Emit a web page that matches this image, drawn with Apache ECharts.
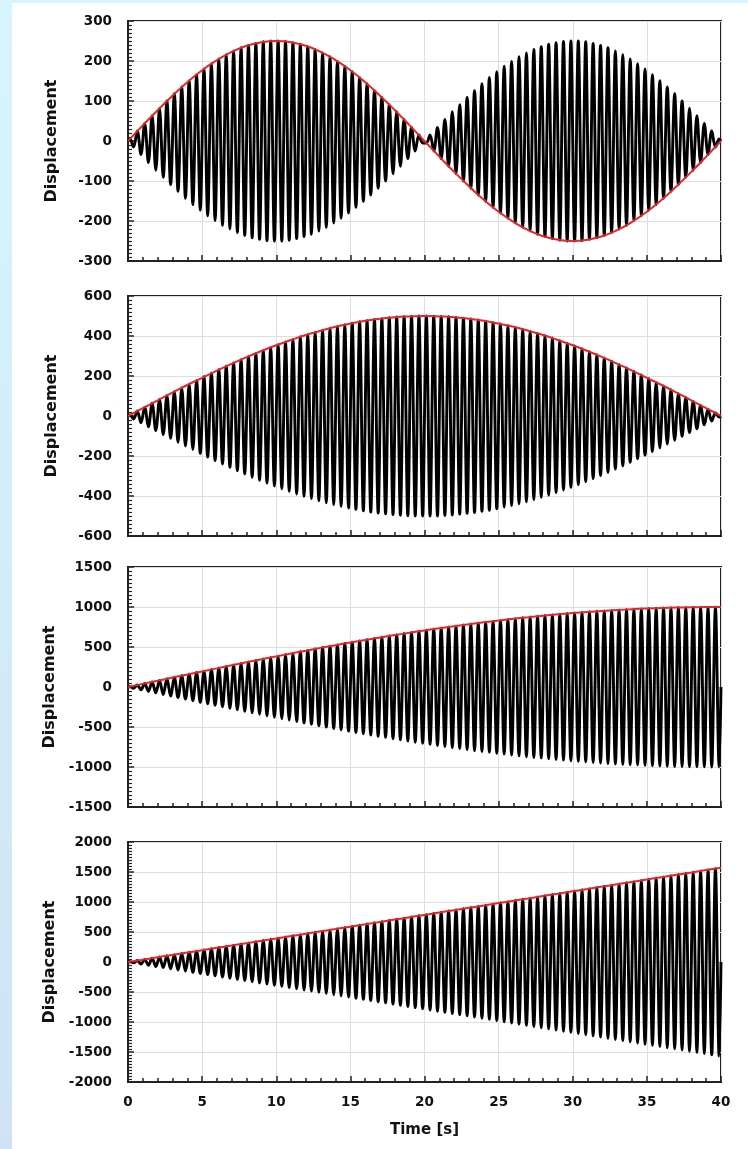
<!DOCTYPE html>
<html><head><meta charset="utf-8">
<script src="https://cdn.jsdelivr.net/npm/echarts@6/dist/echarts.min.js"></script>
<style>
html,body{margin:0;padding:0;width:748px;height:1149px;overflow:hidden;}
body{background:linear-gradient(to bottom,#d6f5fe,#cfe3f4);}
#paper{position:absolute;left:12px;top:3px;right:0;bottom:0;background:#fff;}
#chart{position:absolute;left:0;top:0;width:748px;height:1149px;}
</style></head><body><div id="paper"></div><div id="chart"></div>
<script>
// ---- data ----
const timeTickLabels = ['0','5','10','15','20','25','30','35','40'];
const envTime = [0,1,2,3,4,5,6,7,8,9,10,11,12,13,14,15,16,17,18,19,20,21,22,23,24,25,26,27,28,29,30,31,32,33,34,35,36,37,38,39,40];
// red envelopes (value at each second)
const env1 = [0,39,77,113,147,177,202,223,238,247,250,247,238,223,202,177,147,113,77,39,0,-39,-77,-113,-147,-177,-202,-223,-238,-247,-250,-247,-238,-223,-202,-177,-147,-113,-77,-39,0];
const env2 = [0,39,78,117,155,191,227,261,294,325,354,380,405,426,446,462,476,486,494,498,500,498,494,486,476,462,446,426,405,380,354,325,294,261,227,191,155,117,78,39,0];
const env3 = [0,39,78,118,156,195,233,271,309,346,383,419,454,489,523,556,588,619,649,679,707,734,760,785,809,831,853,872,891,908,924,938,951,962,972,981,988,993,997,999,1000];
const env4 = [0,39,79,118,157,196,236,275,314,353,393,432,471,511,550,589,628,668,707,746,785,825,864,903,942,982,1021,1060,1100,1139,1178,1217,1257,1296,1335,1374,1414,1453,1492,1532,1571];
// black oscillation: height of each successive peak/trough (every 0.25 s, starting at 0.125 s)
const peaks1 = [5,15,25,34,44,54,63,73,82,91,100,109,118,126,135,143,151,159,166,173,180,187,193,199,205,211,216,220,225,229,233,236,239,242,244,246,248,249,250,250,
250,250,249,248,246,244,242,239,236,233,229,225,220,216,211,205,199,193,187,180,173,166,159,151,143,135,126,118,109,100,91,82,73,63,54,44,34,25,15,5,
-5,-15,-25,-34,-44,-54,-63,-73,-82,-91,-100,-109,-118,-126,-135,-143,-151,-159,-166,-173,-180,-187,-193,-199,-205,-211,-216,-220,-225,-229,-233,-236,-239,-242,-244,-246,-248,-249,-250,-250,
-250,-250,-249,-248,-246,-244,-242,-239,-236,-233,-229,-225,-220,-216,-211,-205,-199,-193,-187,-180,-173,-166,-159,-151,-143,-135,-126,-118,-109,-100,-91,-82,-73,-63,-54,-44,-34,-25,-15,-5];
const peaks2 = [5,15,25,34,44,54,64,73,83,93,102,112,121,131,140,150,159,168,178,187,196,205,214,223,231,240,249,257,265,274,282,290,298,306,313,321,328,336,343,350,
357,364,370,377,383,390,396,402,407,413,418,424,429,434,439,443,448,452,456,460,464,467,471,474,477,480,483,485,487,489,491,493,495,496,497,498,499,499,500,500,
500,500,499,499,498,497,496,495,493,491,489,487,485,483,480,477,474,471,467,464,460,456,452,448,443,439,434,429,424,418,413,407,402,396,390,383,377,370,364,357,
350,343,336,328,321,313,306,298,290,282,274,265,257,249,240,231,223,214,205,196,187,178,168,159,150,140,131,121,112,102,93,83,73,64,54,44,34,25,15,5];
const peaks3 = [5,15,25,35,45,55,63,73,83,93,103,113,123,133,141,151,161,171,181,191,199,209,219,229,237,247,257,267,275,285,295,305,313,323,331,341,351,361,369,379,
388,396,406,414,424,432,442,450,458,466,476,484,494,502,510,518,526,534,544,552,560,568,576,584,592,600,608,616,622,630,638,646,652,660,668,676,682,690,696,704,
711,717,725,731,737,743,751,757,763,769,777,783,789,795,801,807,811,817,823,829,833,839,845,851,855,861,865,871,875,881,884,888,894,898,902,906,910,914,918,922,
926,930,932,936,940,944,946,950,952,956,958,962,964,968,968,972,973,975,977,979,981,983,985,987,989,991,991,993,993,995,995,997,997,999,998,999,999,1000,1000,1000];
const peaks4 = [5,15,25,34,44,54,64,74,83,93,103,113,123,133,142,152,162,172,182,191,
201,211,221,231,241,250,260,270,280,290,299,309,319,329,339,349,358,368,378,388,
398,407,417,427,437,447,457,466,476,486,496,506,515,525,535,545,555,565,574,584,
594,604,614,623,633,643,653,663,673,682,692,702,712,722,731,741,751,761,771,781,
790,800,810,820,830,839,849,859,869,879,889,898,908,918,928,938,947,957,967,977,
987,997,1006,1016,1026,1036,1046,1055,1065,1075,1085,1095,1105,1114,1124,1134,1144,1154,1163,1173,
1183,1193,1203,1212,1222,1232,1242,1252,1262,1271,1281,1291,1301,1311,1320,1330,1340,1350,1360,1370,
1379,1389,1399,1409,1419,1428,1438,1448,1458,1468,1478,1487,1497,1507,1517,1527,1536,1546,1556,1566];
const yRanges = [[-300,300,100],[-600,600,200],[-1500,1500,500],[-2000,2000,500]];
const firstPeakTime = 0.125, peakSpacing = 0.25, endTime = 40;

// ---- build ----
const FONT = 'DejaVu Sans';
const tops = [21,296,567,842];
const H = 240;
function oscillation(pk){
  const d=[[0,0]];
  pk.forEach((v,k)=>{ d.push([firstPeakTime+peakSpacing*k, (k%2===0?1:-1)*v]); });
  d.push([endTime,0]);
  return d;
}
function envelope(e){ return envTime.map((t,i)=>[t,e[i]]); }
const allPeaks=[peaks1,peaks2,peaks3,peaks4];
const allEnv=[env1,env2,env3,env4];
const grid=[],xAxis=[],yAxis=[],series=[];
for(let i=0;i<4;i++){
  grid.push({left:128,width:593,top:tops[i],height:H,show:true,borderColor:'#222',borderWidth:2,backgroundColor:'transparent'});
  xAxis.push({type:'value',gridIndex:i,min:0,max:40,interval:5,
    name:i===3?'Time [s]':'',nameLocation:'middle',nameGap:41,
    nameTextStyle:{fontFamily:FONT,fontWeight:'bold',fontSize:15,color:'#111'},
    axisLine:{show:true,onZero:false,lineStyle:{color:'#222',width:2}},
    axisTick:{show:true,inside:true,length:6,lineStyle:{color:'#222',width:1.5}},
    minorTick:{show:true,splitNumber:5,length:4,lineStyle:{color:'#222',width:1.5}},
    splitLine:{show:true,lineStyle:{color:'#dedede',width:1}},
    axisLabel:{show:i===3,margin:13,fontFamily:FONT,fontWeight:'bold',fontSize:13.5,color:'#111',
      formatter:(v)=>timeTickLabels[Math.round(v/5)]}
  });
  const r=yRanges[i];
  yAxis.push({type:'value',gridIndex:i,min:r[0],max:r[1],interval:r[2],
    name:'Displacement',nameLocation:'middle',nameGap:68,nameRotate:90,
    nameTextStyle:{fontFamily:FONT,fontWeight:'bold',fontSize:16,color:'#111'},
    axisLine:{show:true,lineStyle:{color:'#222',width:2}},
    axisTick:{show:true,inside:true,length:6,lineStyle:{color:'#222',width:1.5}},
    minorTick:{show:true,splitNumber:10,length:4,lineStyle:{color:'#222',width:1.2}},
    splitLine:{show:true,lineStyle:{color:'#dedede',width:1}},
    axisLabel:{margin:16,fontFamily:FONT,fontWeight:'bold',fontSize:13.5,color:'#111',
      formatter:(v)=>String(v)}
  });
  series.push({type:'line',xAxisIndex:i,yAxisIndex:i,data:oscillation(allPeaks[i]),smooth:0.35,
    showSymbol:false,sampling:null,lineStyle:{color:'#000',width:2.9},z:2,silent:true});
  series.push({type:'line',xAxisIndex:i,yAxisIndex:i,data:envelope(allEnv[i]),smooth:true,
    showSymbol:false,lineStyle:{color:'#e3262c',width:2},z:3,silent:true});
}
const chart=echarts.init(document.getElementById('chart'),null,{renderer:'canvas'});
chart.setOption({animation:false,backgroundColor:'transparent',grid,xAxis,yAxis,series});
</script></body></html>
